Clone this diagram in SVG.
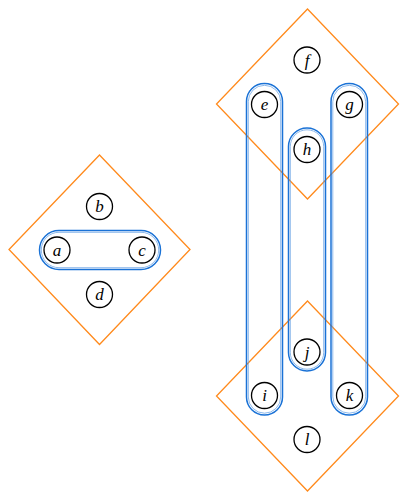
<svg xmlns="http://www.w3.org/2000/svg" width="406" height="500" viewBox="0 0 406 500">
<style>
.dia{fill:none;stroke:#ff8a1c;stroke-width:1.3}
.hull{fill:none;stroke:#1a72d6;stroke-width:1.5}
.hin{fill:none;stroke:#5b9be2;stroke-width:0.7}
.nd circle{fill:#fff;stroke:#000;stroke-width:1.3}
.nd text{font-family:"Liberation Serif","DejaVu Serif",serif;font-style:italic;font-size:17px;text-anchor:middle;fill:#000}
</style>
<rect width="406" height="500" fill="#fff"/>
<g id="groups">
<polygon class="dia" points="99.5,155 190,249.5 99.5,344.5 9,249.5"/>
<polygon class="dia" points="307.5,9 398.5,104 307.5,199 216.5,104"/>
<polygon class="dia" points="307.5,301 398.5,396 307.5,491 216.5,396"/>
<rect class="hull" x="39.5" y="230.5" width="121" height="39" rx="19.5"/>
<rect class="hin" x="41.3" y="232.3" width="117.4" height="35.4" rx="17.7"/>
<rect class="hull" x="246.5" y="83.5" width="36" height="331.5" rx="18"/>
<rect class="hin" x="248.3" y="85.3" width="32.4" height="327.9" rx="16.2"/>
<rect class="hull" x="288.5" y="128" width="37" height="243" rx="18.5"/>
<rect class="hin" x="290.3" y="129.8" width="33.4" height="239.4" rx="16.7"/>
<rect class="hull" x="331" y="83.5" width="36.5" height="331.5" rx="18.2"/>
<rect class="hin" x="332.8" y="85.3" width="32.9" height="327.9" rx="16.4"/>
</g>
<g id="a" class="nd"><circle cx="57" cy="250" r="13"/><text x="57" y="255.5">a</text></g>
<g id="b" class="nd"><circle cx="99.5" cy="206.5" r="13"/><text x="99.5" y="212">b</text></g>
<g id="c" class="nd"><circle cx="142" cy="250" r="13"/><text x="142" y="255.5">c</text></g>
<g id="d" class="nd"><circle cx="99.5" cy="294.5" r="13"/><text x="99.5" y="300">d</text></g>
<g id="e" class="nd"><circle cx="264.5" cy="104.5" r="13"/><text x="264.5" y="110">e</text></g>
<g id="f" class="nd"><circle cx="307" cy="60" r="13"/><text x="307" y="65.5">f</text></g>
<g id="g" class="nd"><circle cx="349.5" cy="104.5" r="13"/><text x="349.5" y="110">g</text></g>
<g id="h" class="nd"><circle cx="307" cy="149.5" r="13"/><text x="307" y="155">h</text></g>
<g id="i" class="nd"><circle cx="264.5" cy="395.5" r="13"/><text x="264.5" y="401">i</text></g>
<g id="j" class="nd"><circle cx="307" cy="352" r="13"/><text x="307" y="357.5">j</text></g>
<g id="k" class="nd"><circle cx="349.5" cy="395.5" r="13"/><text x="349.5" y="401">k</text></g>
<g id="l" class="nd"><circle cx="307" cy="439.5" r="13"/><text x="307" y="445">l</text></g>
<g id="connectors"></g>
</svg>
